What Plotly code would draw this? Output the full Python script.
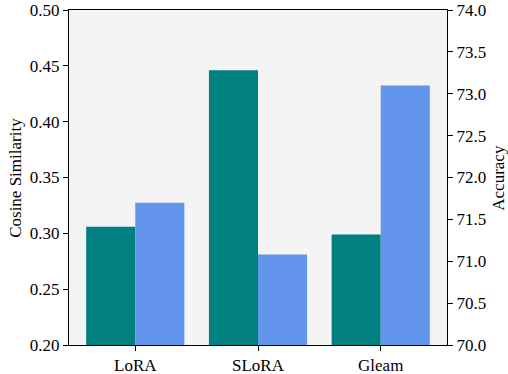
import plotly.graph_objects as go

methods = ["LoRA", "SLoRA", "Gleam"]
cosine_similarity = [0.306, 0.446, 0.299]
accuracy = [71.70, 71.08, 73.10]

left_ticks = [0.20, 0.25, 0.30, 0.35, 0.40, 0.45, 0.50]
right_ticks = [70.0, 70.5, 71.0, 71.5, 72.0, 72.5, 73.0, 73.5, 74.0]

x_pos = list(range(len(methods)))
font = dict(family="Liberation Serif", size=17, color="black")

fig = go.Figure()
fig.add_trace(go.Bar(
    x=x_pos, y=[v - 0.20 for v in cosine_similarity], base=0.20,
    width=0.4, offset=-0.4, marker=dict(color="#008080", line=dict(width=0)),
    name="Cosine Similarity", yaxis="y", offsetgroup="a",
))
fig.add_trace(go.Bar(
    x=x_pos, y=[v - 70.0 for v in accuracy], base=70.0,
    width=0.4, offset=0.0, marker=dict(color="#6495ED", line=dict(width=0)),
    name="Accuracy", yaxis="y2", offsetgroup="b",
))

axis_common = dict(
    showgrid=False, zeroline=False, showline=True, linecolor="black",
    linewidth=1, ticks="outside", ticklen=5, tickcolor="black",
    automargin=False, tickfont=font,
)

fig.update_layout(
    width=508, height=374,
    margin=dict(l=69, r=61, t=10, b=29, autoexpand=False),
    paper_bgcolor="white", plot_bgcolor="#f4f4f4",
    showlegend=False, font=font,
    xaxis=dict(range=[-0.54, 2.54], tickvals=x_pos, ticktext=methods,
               mirror=True, **axis_common),
    yaxis=dict(range=[0.20, 0.50], tickvals=left_ticks,
               ticktext=[f"{t:.2f}" for t in left_ticks], **axis_common),
    yaxis2=dict(range=[70.0, 74.0], tickvals=right_ticks,
                ticktext=[f"{t:.1f}" for t in right_ticks],
                overlaying="y", side="right", **axis_common),
    annotations=[
        dict(text="Cosine Similarity", xref="paper", yref="paper",
             x=-0.142, y=0.5, xanchor="center", yanchor="middle",
             textangle=-90, showarrow=False, font=font, borderpad=0),
        dict(text="Accuracy", xref="paper", yref="paper",
             x=1.1355, y=0.5, xanchor="center", yanchor="middle",
             textangle=-90, showarrow=False, font=font, borderpad=0),
    ],
)

fig.write_html("out.html")
